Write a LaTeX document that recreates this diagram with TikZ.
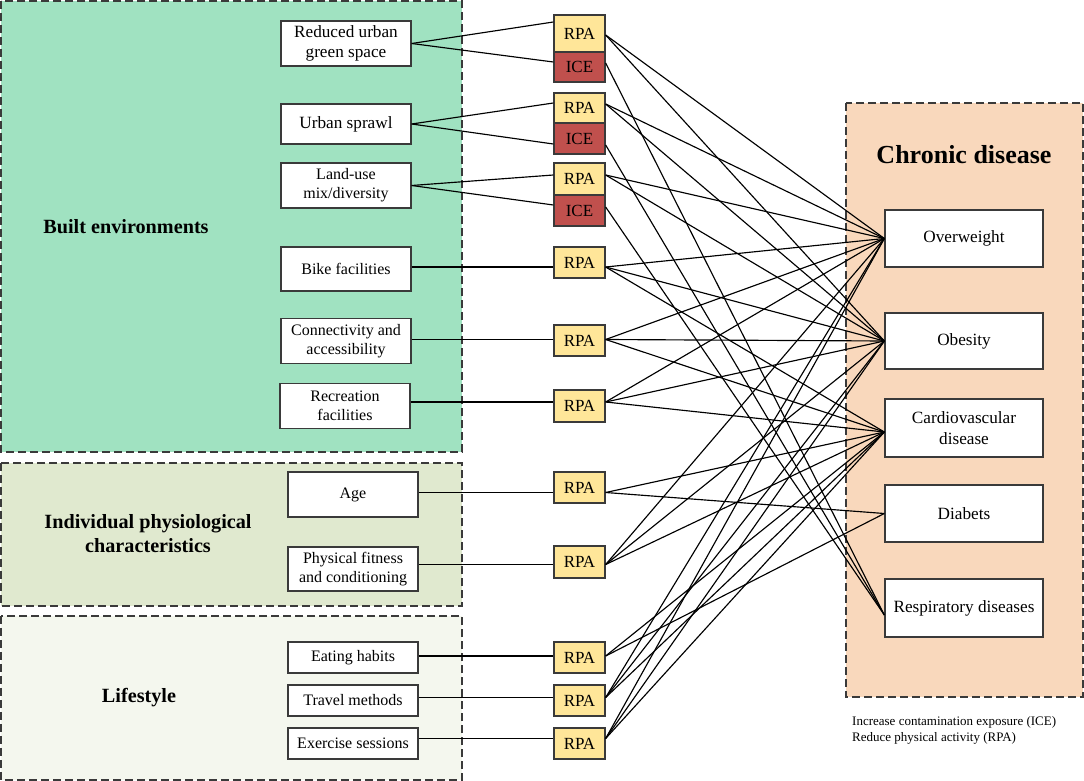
\documentclass[tikz,border=0pt]{standalone}
\usepackage{fontspec}
\setmainfont{Liberation Serif}
\usetikzlibrary{calc}
\definecolor{builtc}{HTML}{A0E2C1}
\definecolor{indivc}{HTML}{E0E9CF}
\definecolor{lifec}{HTML}{F4F7EE}
\definecolor{chronc}{HTML}{F9D8BC}
\definecolor{rpac}{HTML}{FFE699}
\definecolor{icec}{HTML}{C0504D}
\definecolor{edgec}{HTML}{3A3A3A}
\begin{document}
\begin{tikzpicture}[x=1pt,y=-1pt,
 group/.style={draw=edgec, dash pattern=on 8pt off 4pt, line width=1.3pt},
 lbox/.style={draw=edgec, fill=white, line width=1.3pt, minimum width=130pt, inner sep=0pt, align=center, font=\fontsize{16}{19}\selectfont},
 lboxb/.style={lbox, font=\fontsize{17.2}{20.5}\selectfont},
 dbox/.style={lbox, minimum width=158pt, font=\fontsize{17.2}{20.5}\selectfont},
 mbox/.style={draw=edgec, line width=1.3pt, minimum width=51pt, inner sep=0pt, font=\fontsize{17}{20}\selectfont},
 rpa/.style={mbox, fill=rpac, minimum height=31pt},
 ice/.style={mbox, fill=icec, minimum height=31pt},
 gtitle/.style={font=\bfseries\fontsize{20.2}{24}\selectfont, align=center},
 link/.style={line width=1.15pt, black},
]
\useasboundingbox (0,0) rectangle (1084,781);
% group areas
\draw[group, fill=builtc] (1,1) rectangle (462,452);
\draw[group, fill=indivc] (1,463) rectangle (462,606);
\draw[group, fill=lifec] (1,616) rectangle (462,780);
\draw[group, fill=chronc] (846,103) rectangle (1083,697);
% titles
\node[gtitle] (tbuilt) at (126,227) {Built environments};
\node[gtitle] (tindiv) at (148,534) {Individual physiological\\characteristics};
\node[gtitle] (tlife) at (139,698) {Lifestyle};
\node[font=\bfseries\fontsize{26}{30}\selectfont] (tchron) at (964,155) {Chronic disease};
\node[font=\fontsize{13}{16}\selectfont, align=left, anchor=west, inner sep=0pt] (legend) at (852,730) {Increase contamination exposure (ICE)\\Reduce physical activity (RPA)};
% left factors
\node[lboxb, minimum height=45pt] (green) at (346,43.5) {Reduced urban\\green space};
\node[lboxb, minimum height=40pt] (sprawl) at (346,124) {Urban sprawl};
\node[lbox, minimum height=45pt] (landuse) at (346,185.5) {Land-use\\mix/diversity};
\node[lbox, minimum height=44pt] (bike) at (346,269) {Bike facilities};
\node[lbox, minimum height=45pt] (conn) at (346,341) {Connectivity and\\accessibility};
\node[lbox, minimum height=45pt] (recr) at (345,406) {Recreation\\facilities};
\node[lbox, minimum height=45pt] (age) at (353,494.5) {Age};
\node[lbox, minimum height=44pt] (fit) at (353,569) {Physical fitness\\and conditioning};
\node[lbox, minimum height=31pt] (eat) at (353,657.5) {Eating habits};
\node[lbox, minimum height=31pt] (travel) at (353,700.5) {Travel methods};
\node[lbox, minimum height=31pt] (exer) at (353,743.5) {Exercise sessions};
% mediators
\node[rpa, minimum height=37pt] (r1) at (579.5,33.5) {RPA};
\node[ice, minimum height=30pt] (i1) at (579.5,67) {ICE};
\node[rpa, minimum height=30pt] (r2) at (579.5,108) {RPA};
\node[ice] (i2) at (579.5,138.5) {ICE};
\node[rpa, minimum height=32pt] (r3) at (579.5,179) {RPA};
\node[ice] (i3) at (579.5,210.5) {ICE};
\node[rpa] (r4) at (579.5,262.5) {RPA};
\node[rpa] (r5) at (579.5,340.5) {RPA};
\node[rpa, minimum height=32pt] (r6) at (579.5,406) {RPA};
\node[rpa] (r7) at (579.5,487.5) {RPA};
\node[rpa, minimum height=32pt] (r8) at (579.5,562) {RPA};
\node[rpa] (r9) at (579.5,657.5) {RPA};
\node[rpa] (r10) at (579.5,700.5) {RPA};
\node[rpa] (r11) at (579.5,743.5) {RPA};
% diseases
\node[dbox, minimum height=57pt] (ow) at (964,238.5) {Overweight};
\node[dbox, minimum height=56pt] (ob) at (964,341) {Obesity};
\node[dbox, minimum height=58pt] (cv) at (964,428) {Cardiovascular\\disease};
\node[dbox, minimum height=57pt] (db) at (964,513.5) {Diabets};
\node[dbox, minimum height=58pt] (rs) at (964,608) {Respiratory diseases};
% connector points
\coordinate (r1i) at ($(r1.west)+(0,-11.5)$);
\coordinate (i1i) at ($(i1.west)+(0,-5)$);
\coordinate (r2i) at ($(r2.west)+(0,-5)$);
\coordinate (i2i) at ($(i2.west)+(0,5.5)$);
\coordinate (r3i) at ($(r3.west)+(0,-4)$);
\coordinate (i3i) at ($(i3.west)+(0,-5.5)$);
\coordinate (r1o) at ($(r1.east)+(0,1.5)$);
\coordinate (i1o) at ($(i1.east)+(0,-4)$);
\coordinate (r2o) at ($(r2.east)+(0,-4)$);
\coordinate (i2o) at ($(i2.east)+(0,6.5)$);
\coordinate (r3o) at ($(r3.east)+(0,-4)$);
\coordinate (i3o) at ($(i3.east)+(0,-3.5)$);
\coordinate (r4o) at ($(r4.east)+(0,4.5)$);
\coordinate (r5o) at ($(r5.east)+(0,-1)$);
\coordinate (r6o) at ($(r6.east)+(0,-4)$);
\coordinate (r7o) at ($(r7.east)+(0,5)$);
\coordinate (r8o) at ($(r8.east)+(0,2.5)$);
\coordinate (r9o) at ($(r9.east)+(0,-1.5)$);
\coordinate (r10o) at ($(r10.east)+(0,-3)$);
\coordinate (r11o) at ($(r11.east)+(0,-5)$);
\coordinate (owt) at (ow.west);
\coordinate (obt) at (ob.west);
\coordinate (cvt) at ($(cv.west)+(0,4)$);
\coordinate (dbt) at (db.west);
\coordinate (rst) at ($(rs.west)+(0,7)$);
% factor -> mediator
\draw[link] (green.east) -- (r1i);
\draw[link] (green.east) -- (i1i);
\draw[link] (sprawl.east) -- (r2i);
\draw[link] (sprawl.east) -- (i2i);
\draw[link] (landuse.east) -- (r3i);
\draw[link] (landuse.east) -- (i3i);
\foreach \f/\m in {bike/r4, conn/r5, recr/r6, age/r7, fit/r8, eat/r9, travel/r10, exer/r11}
  \draw[link] (\m o -| \f.east) -- (\m o -| \m.west);
% mediator -> disease
\foreach \s/\t in {r1o/owt, r1o/obt, i1o/rst, r2o/owt, r2o/obt, i2o/rst, r3o/owt, r3o/obt, i3o/rst,
  r4o/owt, r4o/obt, r4o/cvt, r5o/owt, r5o/obt, r5o/cvt, r6o/owt, r6o/obt, r6o/cvt,
  r7o/cvt, r7o/dbt, r8o/owt, r8o/obt, r8o/cvt, r9o/cvt, r9o/dbt,
  r10o/owt, r10o/obt, r10o/cvt, r11o/owt, r11o/obt, r11o/cvt}
  \draw[link] (\s) -- (\t);
\end{tikzpicture}
\end{document}
